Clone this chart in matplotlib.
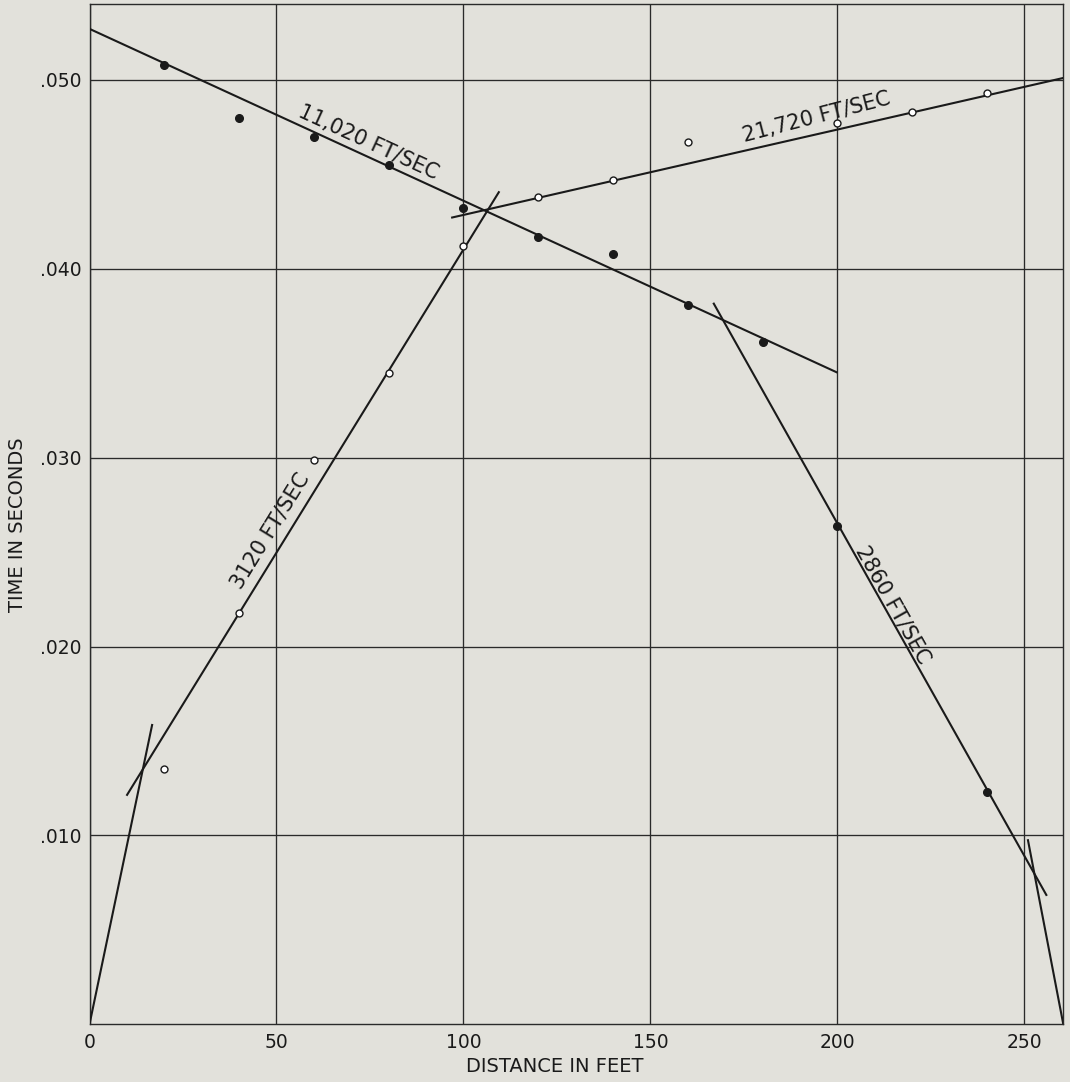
import matplotlib
matplotlib.use("Agg")
import matplotlib.pyplot as plt

# ---- data ----
dist_filled = [20, 40, 60, 80, 100, 120, 140, 160, 180, 200, 240]
time_filled = [0.0508, 0.0480, 0.0470, 0.0455, 0.0432, 0.0417, 0.0408, 0.0381, 0.0361, 0.0264, 0.0123]
dist_open = [20, 40, 60, 80, 100, 120, 140, 160, 200, 220, 240]
time_open = [0.0135, 0.0218, 0.0299, 0.0345, 0.0412, 0.0438, 0.0447, 0.0467, 0.0477, 0.0483, 0.0493]

line_11020_x = [0, 200]
line_11020_y = [0.0527, 0.0345]
line_21720_x = [96.7, 260.4]
line_21720_y = [0.0427, 0.0501]
line_3120_x = [9.9, 109.6]
line_3120_y = [0.0121, 0.0441]
line_origin_x = [0, 16.8]
line_origin_y = [0.0, 0.0159]
line_2860_x = [166.8, 256.0]
line_2860_y = [0.0382, 0.0068]
line_end_x = [250.9, 260.4]
line_end_y = [0.0098, 0.0]

x_ticks = [0, 50, 100, 150, 200, 250]
x_tick_labels = ["0", "50", "100", "150", "200", "250"]
y_ticks = [0.010, 0.020, 0.030, 0.040, 0.050]
y_tick_labels = [".010", ".020", ".030", ".040", ".050"]

labels = ["11,020 FT/SEC", "21,720 FT/SEC", "3120 FT/SEC", "2860 FT/SEC"]
label_x = [74.5, 194.3, 48.3, 214.8]
label_y = [0.0467, 0.0480, 0.0261, 0.0222]
label_rot = [-24.7, 14.5, 58.4, -60.6]

# ---- style ----
bg = "#e2e1db"
ink = "#1a1a1a"
plt.rcParams['font.family'] = ['DejaVu Sans']

fig = plt.figure(figsize=(10.70, 10.82), dpi=100, facecolor=bg)
ax = fig.add_axes([89.5 / 1070, 1 - 1024.3 / 1082, (1063.3 - 89.5) / 1070, (1024.3 - 4.3) / 1082])
ax.set_facecolor(bg)
ax.set_xlim(0, 260.4)
ax.set_ylim(0, 0.0540)

ax.set_xticks(x_ticks)
ax.set_xticklabels(x_tick_labels)
ax.set_yticks(y_ticks)
ax.set_yticklabels(y_tick_labels)
ax.tick_params(length=0, labelsize=13.5, colors=ink, pad=6)
ax.grid(True, color="#2a2a2a", linewidth=0.95)
ax.set_axisbelow(True)
for s in ax.spines.values():
    s.set_color("#2a2a2a")
    s.set_linewidth(1.0)

lw = 1.5
for xs, ys in [(line_11020_x, line_11020_y), (line_21720_x, line_21720_y),
               (line_3120_x, line_3120_y), (line_origin_x, line_origin_y),
               (line_2860_x, line_2860_y), (line_end_x, line_end_y)]:
    ax.plot(xs, ys, color=ink, linewidth=lw, solid_capstyle="butt", zorder=3)

ax.plot(dist_filled, time_filled, linestyle="none", marker="o", markersize=5.5,
        color=ink, zorder=4)
ax.plot(dist_open, time_open, linestyle="none", marker="o", markersize=5,
        markerfacecolor="white", markeredgecolor=ink, markeredgewidth=1.0, zorder=4)

for t, x, y, r in zip(labels, label_x, label_y, label_rot):
    ax.text(x, y, t, rotation=r, rotation_mode="anchor", ha="center", va="center",
            fontsize=15, color=ink, zorder=5)

fig.text(555 / 1070, 1 - 1066 / 1082, "DISTANCE IN FEET", ha="center", va="center",
         fontsize=14, color=ink)
fig.text(18 / 1070, 1 - 525 / 1082, "TIME IN SECONDS", ha="center", va="center",
         rotation=90, fontsize=14, color=ink)

fig.savefig("out.png", dpi=100, facecolor=bg)
